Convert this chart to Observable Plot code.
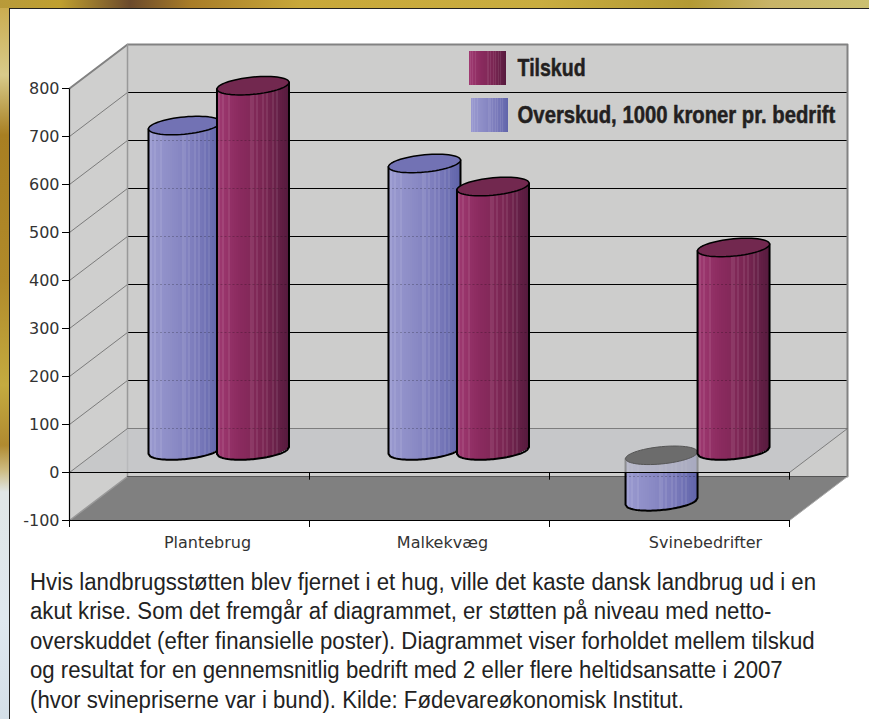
<!DOCTYPE html>
<html><head><meta charset="utf-8">
<script src="https://cdn.jsdelivr.net/npm/d3@7"></script>
<script src="https://cdn.jsdelivr.net/npm/@observablehq/plot@0.6"></script>
<style>
html,body{margin:0;padding:0;width:869px;height:719px;overflow:hidden}
body{position:relative;background:linear-gradient(180deg,#c9a94a 0,#d8cb8a 75px,#a87f22 135px,#b08a2a 280px,#c4ab40 385px,#b08a30 445px,#cdbb80 470px,#e0e6e6 492px,#dfe8ef 620px,#d4dfe8 719px)}
#top{position:absolute;left:0;top:0;width:869px;height:8px;background:linear-gradient(90deg,#b89a3a 0,#c0a030 60px,#6b4a2c 130px,#a87c28 190px,#c8a83a 300px,#c9ad40 540px,#b39a34 690px,#c8b468 770px,#cbc070 869px)}
#panel{position:absolute;left:9px;top:8px;width:860px;height:711px;background:#fff;border-left:1px solid #222;border-top:1px solid #222;box-sizing:border-box}
#chart{position:absolute;left:0;top:0}
#caption{position:absolute;left:30px;top:568px;font:23.5px/29.4px "Liberation Sans",sans-serif;color:#222;white-space:nowrap;transform-origin:left top}
#caption div{display:block}
</style></head><body>
<div id="top"></div><div id="panel"></div><div id="chart"></div><div id="caption"></div>
<script>
// ---- data ----
const categories = ["Plantebrug", "Malkekvæg", "Svinebedrifter"];
const overskud = [677, 598, -106];
const tilskud = [760, 550, 423];
const yTicks = [-100, 0, 100, 200, 300, 400, 500, 600, 700, 800];
const seriesNames = ["Tilskud", "Overskud, 1000 kroner pr. bedrift"];
const captionLines = [
  "Hvis landbrugsstøtten blev fjernet i et hug, ville det kaste dansk landbrug ud i en",
  "akut krise. Som det fremgår af diagrammet, er støtten på niveau med netto-",
  "overskuddet (efter finansielle poster). Diagrammet viser forholdet mellem tilskud",
  "og resultat for en gennemsnitlig bedrift med 2 eller flere heltidsansatte i 2007",
  "(hvor svinepriserne var i bund). Kilde: Fødevareøkonomisk Institut."
];

// ---- layout in chart units (x: categories, y: axis value) ----
const depthX = 58 / 240, depthY = 44 / 0.48;
const P = (x, v, d = 0) => ({x: x + d * depthX, y: v + d * depthY});
const blueOff = [-0.1417, -0.1417, -0.154], redOff = [0.1437, 0.1437, 0.146];
const labelX = [0.575, 1.554, 2.65];
const rx = 0.15, ry = 18, tilt = 7;
const negTop = -10;
const palette = {
  blue: ["#9a9ad0", "#8c8cc6", "#7c7cbc", "#6064aa"], blueTop: "#7272b4",
  red: ["#a03a72", "#8a2a5e", "#7a2653", "#571a3e"], redTop: "#72284f"
};
const ribs = [0.05, 0.1, 0.19, 0.5, 0.57, 0.66, 0.72, 0.79, 0.86];
const mid = 0.5 * depthY;

const ramp = (stops) => d3.scaleLinear().domain(stops.map((_, i) => i / (stops.length - 1))).range(stops).interpolate(d3.interpolateRgb);
function strips(cx, half, v0Low, v0High, stops, curved) {
  const n = 36, r = ramp(stops), out = [];
  for (let i = 0; i < n; i++) {
    const t = (i + 0.5) / n, c = 2 * t - 1, s = Math.sqrt(1 - c * c);
    const rib = ribs.some(f => Math.abs(f - t) < 0.014);
    out.push({
      x1: cx + half * (i / n * 2 - 1), x2: cx + half * ((i + 1) / n * 2 - 1),
      y1: v0Low + (curved ? tilt * c - ry * s : 0),
      y2: v0High + (curved ? tilt * c - ry * s : 0),
      fill: rib ? d3.interpolateRgb(r(t), "#ffffff")(0.08) : r(t)
    });
  }
  return out;
}
function ellipse(cx, v) {
  return d3.range(0, 61).map(i => {
    const a = i / 60 * 2 * Math.PI;
    return {x: cx + rx * Math.cos(a), y: v + mid + tilt * Math.cos(a) + ry * Math.sin(a)};
  });
}
function outline(cx, low, high) {
  const pts = [{x: cx - rx, y: high + mid - tilt}];
  d3.range(0, 41).forEach(i => {
    const c = i / 40 * 2 - 1;
    pts.push({x: cx + rx * c, y: low + mid + tilt * c - ry * Math.sqrt(1 - c * c)});
  });
  pts.push({x: cx + rx, y: high + mid + tilt});
  return pts;
}
const poly = (pts, fill, stroke, extra = {}) => Plot.line(pts, {x: "x", y: "y", fill, stroke: stroke || "none", curve: "linear", ...extra});

function cylinder(cx, low, high, stops, topFill) {
  return [
    Plot.rect(strips(cx, rx, low + mid, high + mid, stops, true), {x1: "x1", x2: "x2", y1: "y1", y2: "y2", fill: d => d.fill, shapeRendering: "crispEdges"}),
    Plot.ruleY(yTicks.map(v => v + depthY).filter(v => v < high + mid - 20 && v > low + mid), {x1: cx - rx, x2: cx + rx, y: d => d, stroke: "#000", strokeOpacity: 0.22, strokeDasharray: "2 2"}),
    Plot.line(outline(cx, low, high), {x: "x", y: "y", stroke: "#000", strokeWidth: 2, curve: "linear"}),
    poly(ellipse(cx, high), topFill, "#000", {strokeWidth: 1.5})
  ];
}

const xc = i => i + 0.5 + 0.5 * depthX;
const gridV = yTicks.slice(1);

const marks = [
  // back wall, left wall, floor
  poly([P(0,-100,1), P(0,800,1), P(3,800,1), P(3,-100,1)], "#cdcdcc"),
  poly([P(0,-100,0), P(0,800,0), P(0,800,1), P(0,-100,1)], "#cfcfce"),
  Plot.link(gridV.slice(1), {x1: 0 + depthX, x2: 3 + depthX, y1: d => d + depthY, y2: d => d + depthY, stroke: "#000", strokeWidth: 1}),
  Plot.link(gridV.slice(1), {x1: 0, x2: depthX, y1: d => d, y2: d => d + depthY, stroke: "#666", strokeWidth: 0.8}),
  poly([P(0,-100,0), P(0,-100,1), P(3,-100,1), P(3,-100,0)], "#808080"),
  // frame edges
  Plot.line([P(0,800,0), P(0,800,1), P(3,800,1), P(3,-100,1)], {x: "x", y: "y", stroke: "#828282", strokeWidth: 2, curve: "linear"}),
  Plot.line([P(0,800,1), P(0,-100,1), P(0,-100,0)], {x: "x", y: "y", stroke: "#999", strokeWidth: 1.5, curve: "linear"}),
  Plot.line([P(0,-100,1), P(3,-100,1)], {x: "x", y: "y", stroke: "#555", strokeWidth: 1.2, curve: "linear"}),
  Plot.line([P(3,-100,0), P(3,-100,1)], {x: "x", y: "y", stroke: "#aaa", strokeWidth: 1, curve: "linear"}),
  // negative cylinder below the zero plane
  ...[2].flatMap(i => cylinder(xc(i) + blueOff[i], overskud[i], negTop, palette.blue, "#6c6c6c").slice(0, 3)),
  // zero plane
  poly([P(0,0,0), P(0,0,1), P(3,0,1), P(3,0,0)], "#c4c5c7", "none", {fillOpacity: 0.72}),
  Plot.line([P(0,0,0), P(0,0,1), P(3,0,1), P(3,0,0)], {x: "x", y: "y", stroke: "#6a6a6a", strokeWidth: 0.8, curve: "linear"}),
  poly(ellipse(xc(2) + blueOff[2], negTop), "#6c6c6c", "#555", {strokeWidth: 1}),
  Plot.line([P(0,0,0), P(3,0,0)], {x: "x", y: "y", stroke: "#000", strokeWidth: 1.2, curve: "linear"}),
  Plot.link([1, 2, 3], {x1: d => d, x2: d => d, y1: 0, y2: -15, stroke: "#000"}),
  // axes
  Plot.link([0], {x1: 0, x2: 0, y1: 800, y2: -100, stroke: "#000", strokeWidth: 1.2}),
  Plot.link([0], {x1: 0, x2: 3, y1: -100, y2: -100, stroke: "#000", strokeWidth: 1.2}),
  Plot.axisY({ticks: yTicks, tickSize: 7, tickPadding: 3, tickFormat: d => String(d), fontSize: 16, fill: "#333", stroke: "#000", label: null}),
  Plot.axisX({ticks: [0, 1, 2, 3], tickSize: 7, tickFormat: () => "", stroke: "#000", label: null}),
  // positive cylinders
  ...categories.flatMap((c, i) => [
    ...(overskud[i] > 0 ? cylinder(xc(i) + blueOff[i], 0, overskud[i], palette.blue, palette.blueTop) : []),
    ...cylinder(xc(i) + redOff[i], 0, tilskud[i], palette.red, palette.redTop)
  ]),
  // category labels
  Plot.text(categories, {x: (d, i) => labelX[i], y: -146, text: d => d, fontSize: 16, fill: "#333"}),
  // legend
  Plot.rect(strips(1.744, 0.077, 806, 877, palette.red, false), {x1: "x1", x2: "x2", y1: "y1", y2: "y2", fill: d => d.fill, shapeRendering: "crispEdges"}),
  Plot.rect(strips(1.752, 0.077, 708, 779, palette.blue, false), {x1: "x1", x2: "x2", y1: "y1", y2: "y2", fill: d => d.fill, shapeRendering: "crispEdges"}),
  Plot.text(seriesNames, {x: 1.867, y: (d, i) => [842, 744][i], text: d => d, textAnchor: "start", fontSize: 23, fontWeight: "bold", fontFamily: "Liberation Sans", fill: "#231f20", stroke: "#231f20", strokeWidth: 0.5, className: "legendText"})
];

const plot = Plot.plot({
  width: 869, height: 560,
  marginLeft: 69, marginRight: 0, marginTop: 0, marginBottom: 40,
  x: {domain: [0, 800 / 240]},
  y: {domain: [-100, 520 / 0.48 - 100]},
  style: {background: "transparent", fontFamily: "DejaVu Sans", overflow: "visible"},
  marks
});
document.getElementById("chart").appendChild(plot);

// condensed face for legend text: scale horizontally to the printed widths
const legendWidths = [68, 318];
d3.select(plot).selectAll("g.legendText text, .legendText text").each(function(d, i) {
  const k = legendWidths[i] / this.getComputedTextLength();
  this.setAttribute("transform", (this.getAttribute("transform") || "") + " scale(" + k + ",1)");
});

const cap = document.getElementById("caption");
cap.innerHTML = captionLines.map(l => "<div>" + l + "</div>").join("");
const range = document.createRange();
range.selectNodeContents(cap.firstChild);
const w = range.getBoundingClientRect().width;
cap.style.transform = "scaleX(" + (786 / w) + ")";
</script>
</body></html>
